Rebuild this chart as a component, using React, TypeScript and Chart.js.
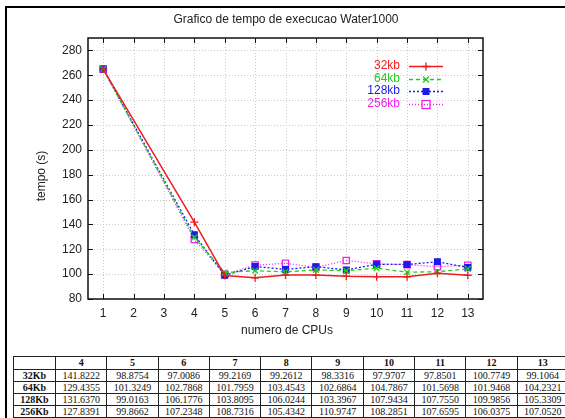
import React, { useEffect, useRef } from "react";
import { Chart, registerables } from "chart.js";

Chart.register(...registerables);

const cpus = [1, 4, 5, 6, 7, 8, 9, 10, 11, 12, 13];
const tableCpus = ["4", "5", "6", "7", "8", "9", "10", "11", "12", "13"];
const s32 = [265, 141.8222, 98.8754, 97.0086, 99.2169, 99.2612, 98.3316, 97.9707, 97.8501, 100.7749, 99.1064];
const s64 = [265, 129.4355, 101.3249, 102.7868, 101.7959, 103.4543, 102.6864, 104.7867, 101.5698, 101.9468, 104.2321];
const s128 = [265, 131.637, 99.0163, 106.1776, 103.8095, 106.0244, 103.3967, 107.9434, 107.755, 109.9856, 105.3309];
const s256 = [265, 127.8391, 99.8662, 107.2348, 108.7316, 105.4342, 110.9747, 108.2851, 107.6595, 106.0375, 107.052];
const tab32 = ["141.8222", "98.8754", "97.0086", "99.2169", "99.2612", "98.3316", "97.9707", "97.8501", "100.7749", "99.1064"];
const tab64 = ["129.4355", "101.3249", "102.7868", "101.7959", "103.4543", "102.6864", "104.7867", "101.5698", "101.9468", "104.2321"];
const tab128 = ["131.6370", "99.0163", "106.1776", "103.8095", "106.0244", "103.3967", "107.9434", "107.7550", "109.9856", "105.3309"];
const tab256 = ["127.8391", "99.8662", "107.2348", "108.7316", "105.4342", "110.9747", "108.2851", "107.6595", "106.0375", "107.0520"];
const seriesLabels = ["32kb", "64kb", "128kb", "256kb"];
const rowLabels = ["32Kb", "64Kb", "128Kb", "256Kb"];
const xTicks = [1, 2, 3, 4, 5, 6, 7, 8, 9, 10, 11, 12, 13];
const yTicks = [80, 100, 120, 140, 160, 180, 200, 220, 240, 260, 280];

const FONT = "'Liberation Sans', Arial, sans-serif";
const colors = ["#ee1c1c", "#1ed01e", "#1c1ce8", "#ee22ee"];
const dashes = [[], [4, 3], [2, 2], [1, 2]];
const pointStyles = ["cross", "crossRot", "rect", "rect"];

function drawMarker(ctx: CanvasRenderingContext2D, i: number, x: number, y: number) {
  ctx.save();
  ctx.setLineDash([]);
  ctx.strokeStyle = colors[i];
  ctx.fillStyle = colors[i];
  ctx.lineWidth = 1.3;
  ctx.beginPath();
  if (i === 0) {
    ctx.moveTo(x - 4, y); ctx.lineTo(x + 4, y);
    ctx.moveTo(x, y - 4); ctx.lineTo(x, y + 4);
    ctx.stroke();
  } else if (i === 1) {
    ctx.moveTo(x - 3, y - 3); ctx.lineTo(x + 3, y + 3);
    ctx.moveTo(x + 3, y - 3); ctx.lineTo(x - 3, y + 3);
    ctx.stroke();
  } else if (i === 2) {
    ctx.fillRect(x - 3.5, y - 3.5, 7, 7);
  } else {
    ctx.strokeRect(x - 4, y - 4, 8, 8);
  }
  ctx.restore();
}

const framePlugin = {
  id: "frame",
  beforeDatasetsDraw(chart: any) {
    const { ctx, chartArea: a, scales } = chart;
    const xs = scales.x, ys = scales.y;
    ctx.save();
    ctx.strokeStyle = "#c8c8c8";
    ctx.lineWidth = 1;
    ctx.setLineDash([1, 2]);
    xTicks.forEach((v) => {
      const px = Math.round(xs.getPixelForValue(v)) + 0.5;
      ctx.beginPath(); ctx.moveTo(px, a.top); ctx.lineTo(px, a.bottom); ctx.stroke();
    });
    yTicks.forEach((v) => {
      const py = Math.round(ys.getPixelForValue(v)) + 0.5;
      ctx.beginPath(); ctx.moveTo(a.left, py); ctx.lineTo(a.right, py); ctx.stroke();
    });
    ctx.setLineDash([]);
    ctx.strokeStyle = "#111";
    ctx.lineWidth = 1.5;
    ctx.strokeRect(a.left, a.top, a.right - a.left, a.bottom - a.top);
    ctx.lineWidth = 1;
    xTicks.forEach((v) => {
      const px = Math.round(xs.getPixelForValue(v)) + 0.5;
      ctx.beginPath();
      ctx.moveTo(px, a.bottom); ctx.lineTo(px, a.bottom - 5);
      ctx.moveTo(px, a.top); ctx.lineTo(px, a.top + 5);
      ctx.stroke();
    });
    yTicks.forEach((v) => {
      const py = Math.round(ys.getPixelForValue(v)) + 0.5;
      ctx.beginPath();
      ctx.moveTo(a.left, py); ctx.lineTo(a.left + 5, py);
      ctx.moveTo(a.right, py); ctx.lineTo(a.right - 5, py);
      ctx.stroke();
    });
    ctx.restore();
  },
  afterDraw(chart: any) {
    const { ctx } = chart;
    ctx.save();
    ctx.font = `12px ${FONT}`;
    ctx.fillStyle = "#222";
    ctx.textAlign = "center";
    ctx.textBaseline = "middle";
    ctx.fillText("Grafico de tempo de execucao Water1000", 286, 20);
    ctx.fillText("numero de CPUs", 287, 331);
    ctx.save();
    ctx.translate(42, 176);
    ctx.rotate(-Math.PI / 2);
    ctx.fillText("tempo (s)", 0, 0);
    ctx.restore();
    // legend
    const rowsY = [66, 79, 91, 104];
    seriesLabels.forEach((lab, i) => {
      const y = rowsY[i];
      ctx.fillStyle = colors[i];
      ctx.textAlign = "right";
      ctx.fillText(lab, 400, y);
      ctx.strokeStyle = colors[i];
      ctx.lineWidth = i === 0 ? 1.5 : 1.3;
      ctx.setLineDash(dashes[i]);
      ctx.beginPath(); ctx.moveTo(409, y + 0.5); ctx.lineTo(443, y + 0.5); ctx.stroke();
      drawMarker(ctx, i, 426, y + 0.5);
    });
    ctx.restore();
  },
};

function ChartView() {
  const ref = useRef<HTMLCanvasElement>(null);
  useEffect(() => {
    const all = [s32, s64, s128, s256];
    const chart = new Chart(ref.current!, {
      type: "line",
      data: {
        datasets: all.map((s, i) => ({
          label: seriesLabels[i],
          data: cpus.map((c, j) => ({ x: c, y: s[j] })),
          borderColor: colors[i],
          backgroundColor: i === 3 ? "rgba(0,0,0,0)" : colors[i],
          borderWidth: i === 0 ? 1.5 : 1.3,
          borderDash: dashes[i],
          pointStyle: pointStyles[i] as any,
          pointRadius: i === 3 ? 4.5 : 4,
          pointBorderWidth: 1.3,
          pointBorderColor: colors[i],
          pointBackgroundColor: i === 3 ? "rgba(0,0,0,0)" : colors[i],
          fill: false,
          tension: 0,
        })),
      },
      options: {
        responsive: false,
        animation: false,
        events: [],
        layout: { padding: { left: 38, right: 82, top: 38, bottom: 23 } },
        plugins: { legend: { display: false }, title: { display: false }, tooltip: { enabled: false } },
        scales: {
          x: {
            type: "linear",
            min: 0.5,
            max: 13.5,
            afterBuildTicks: (s: any) => { s.ticks = xTicks.map((v) => ({ value: v })); },
            afterFit: (s: any) => { s.height = 30; },
            grid: { display: false, drawTicks: false },
            border: { display: false },
            ticks: { font: { family: FONT, size: 12 }, color: "#222", padding: 7, maxRotation: 0, autoSkip: false },
          },
          y: {
            type: "linear",
            min: 80,
            max: 290,
            afterBuildTicks: (s: any) => { s.ticks = yTicks.map((v) => ({ value: v })); },
            afterFit: (s: any) => { s.width = 50; },
            grid: { display: false, drawTicks: false },
            border: { display: false },
            ticks: { font: { family: FONT, size: 12 }, color: "#222", padding: 6, autoSkip: false },
          },
        },
      },
      plugins: [framePlugin],
    } as any);
    return () => chart.destroy();
  }, []);
  return <canvas ref={ref} width={565} height={352} style={{ position: "absolute", left: 0, top: 0, width: 565, height: 352 }} />;
}

function Cell({ w, h, bold, children }: { w: number; h: number; bold?: boolean; children?: React.ReactNode }) {
  return (
    <div
      style={{
        width: w,
        height: h,
        flex: "0 0 auto",
        boxSizing: "border-box",
        borderRight: "1px solid #222",
        borderBottom: "1px solid #222",
        textAlign: "center",
        lineHeight: `${h - 1}px`,
        fontWeight: bold ? "bold" : "normal",
        whiteSpace: "nowrap",
        overflow: "hidden",
      }}
    >
      {children}
    </div>
  );
}

export default function App() {
  useEffect(() => {
    document.body.style.margin = "0";
    document.body.style.overflow = "hidden";
  }, []);
  const rows = [tab32, tab64, tab128, tab256];
  const firstW = 42;
  const colW = 51.3;
  return (
    <div style={{ position: "fixed", left: 0, top: 0, width: 565, height: 418, overflow: "hidden", background: "#fff" }}>
      <ChartView />
      <div style={{ position: "absolute", left: 5, top: 6, width: 560, height: 2, background: "#000" }} />
      <div style={{ position: "absolute", left: 5, top: 6, width: 2, height: 412, background: "#000" }} />
      <div
        role="table"
        style={{
          position: "absolute",
          left: 13,
          top: 356,
          width: 600,
          borderTop: "1px solid #222",
          borderLeft: "1px solid #222",
          fontFamily: "'Liberation Serif', 'Times New Roman', serif",
          fontSize: 10,
          color: "#111",
        }}
      >
        <div style={{ display: "flex" }}>
          <Cell w={firstW} h={13} />
          {tableCpus.map((c) => (
            <Cell key={c} w={colW} h={13} bold>{c}</Cell>
          ))}
        </div>
        {rows.map((r, i) => (
          <div key={i} style={{ display: "flex" }}>
            <Cell w={firstW} h={12} bold>{rowLabels[i]}</Cell>
            {r.map((v, j) => (
              <Cell key={j} w={colW} h={12}>{v}</Cell>
            ))}
          </div>
        ))}
      </div>
    </div>
  );
}
